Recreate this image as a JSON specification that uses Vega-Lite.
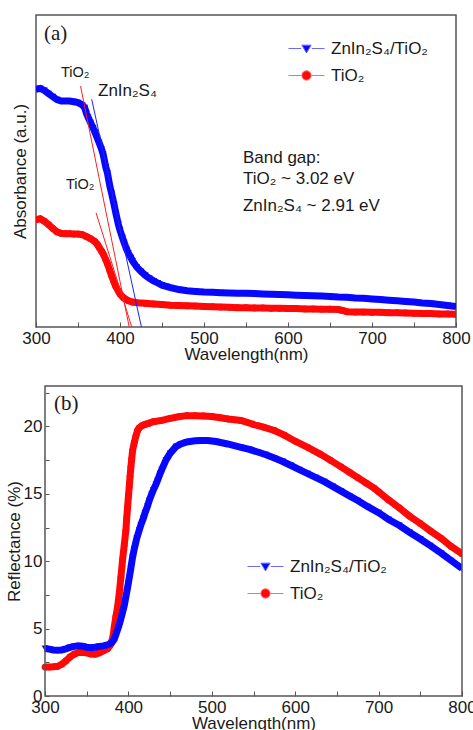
{
  "$schema": "https://vega.github.io/schema/vega-lite/v6.json",
  "padding": {"left": 5, "top": 14, "right": 0, "bottom": 0},
  "background": "white",
  "config": {
    "font": "Liberation Sans",
    "view": {"stroke": "#555555", "strokeWidth": 1.5},
    "axis": {"grid": false, "domain": false, "labelFont": "Liberation Sans", "titleFont": "Liberation Sans", "labelFontSize": 17, "titleFontSize": 17, "titleFontWeight": "normal", "labelColor": "#1a1a1a", "titleColor": "#1a1a1a", "tickColor": "#555555", "labelFlush": false, "labelOverlap": false},
    "legend": {"labelFont": "Liberation Sans", "labelFontSize": 17, "labelColor": "#1a1a1a"}
  },
  "datasets": {
    "absA": [
      {"wl": 300, "v": 0.344, "s": "TiO₂"}, {"wl": 305, "v": 0.347, "s": "TiO₂"}, {"wl": 310, "v": 0.339, "s": "TiO₂"}, {"wl": 315, "v": 0.328, "s": "TiO₂"}, {"wl": 320, "v": 0.316, "s": "TiO₂"}, {"wl": 325, "v": 0.305, "s": "TiO₂"}, {"wl": 330, "v": 0.300, "s": "TiO₂"}, {"wl": 335, "v": 0.299, "s": "TiO₂"}, {"wl": 340, "v": 0.299, "s": "TiO₂"}, {"wl": 345, "v": 0.298, "s": "TiO₂"}, {"wl": 350, "v": 0.298, "s": "TiO₂"}, {"wl": 355, "v": 0.296, "s": "TiO₂"}, {"wl": 360, "v": 0.290, "s": "TiO₂"}, {"wl": 365, "v": 0.283, "s": "TiO₂"}, {"wl": 370, "v": 0.274, "s": "TiO₂"}, {"wl": 373, "v": 0.265, "s": "TiO₂"}, {"wl": 375, "v": 0.256, "s": "TiO₂"}, {"wl": 378, "v": 0.243, "s": "TiO₂"}, {"wl": 380, "v": 0.234, "s": "TiO₂"}, {"wl": 383, "v": 0.216, "s": "TiO₂"}, {"wl": 385, "v": 0.203, "s": "TiO₂"}, {"wl": 388, "v": 0.180, "s": "TiO₂"}, {"wl": 390, "v": 0.164, "s": "TiO₂"}, {"wl": 393, "v": 0.143, "s": "TiO₂"}, {"wl": 395, "v": 0.130, "s": "TiO₂"}, {"wl": 398, "v": 0.115, "s": "TiO₂"}, {"wl": 400, "v": 0.106, "s": "TiO₂"}, {"wl": 403, "v": 0.097, "s": "TiO₂"}, {"wl": 405, "v": 0.092, "s": "TiO₂"}, {"wl": 408, "v": 0.087, "s": "TiO₂"}, {"wl": 410, "v": 0.084, "s": "TiO₂"}, {"wl": 415, "v": 0.080, "s": "TiO₂"}, {"wl": 420, "v": 0.078, "s": "TiO₂"}, {"wl": 430, "v": 0.076, "s": "TiO₂"}, {"wl": 440, "v": 0.074, "s": "TiO₂"}, {"wl": 450, "v": 0.072, "s": "TiO₂"}, {"wl": 460, "v": 0.070, "s": "TiO₂"}, {"wl": 470, "v": 0.069, "s": "TiO₂"}, {"wl": 480, "v": 0.068, "s": "TiO₂"}, {"wl": 490, "v": 0.067, "s": "TiO₂"}, {"wl": 500, "v": 0.066, "s": "TiO₂"}, {"wl": 510, "v": 0.065, "s": "TiO₂"}, {"wl": 520, "v": 0.064, "s": "TiO₂"}, {"wl": 530, "v": 0.063, "s": "TiO₂"}, {"wl": 540, "v": 0.062, "s": "TiO₂"}, {"wl": 550, "v": 0.062, "s": "TiO₂"}, {"wl": 560, "v": 0.061, "s": "TiO₂"}, {"wl": 570, "v": 0.061, "s": "TiO₂"}, {"wl": 580, "v": 0.060, "s": "TiO₂"}, {"wl": 590, "v": 0.060, "s": "TiO₂"}, {"wl": 600, "v": 0.059, "s": "TiO₂"}, {"wl": 610, "v": 0.059, "s": "TiO₂"}, {"wl": 620, "v": 0.058, "s": "TiO₂"}, {"wl": 630, "v": 0.058, "s": "TiO₂"}, {"wl": 640, "v": 0.057, "s": "TiO₂"}, {"wl": 650, "v": 0.057, "s": "TiO₂"}, {"wl": 660, "v": 0.056, "s": "TiO₂"}, {"wl": 665, "v": 0.053, "s": "TiO₂"}, {"wl": 670, "v": 0.049, "s": "TiO₂"}, {"wl": 680, "v": 0.048, "s": "TiO₂"}, {"wl": 690, "v": 0.048, "s": "TiO₂"}, {"wl": 700, "v": 0.047, "s": "TiO₂"}, {"wl": 710, "v": 0.047, "s": "TiO₂"}, {"wl": 720, "v": 0.046, "s": "TiO₂"}, {"wl": 730, "v": 0.046, "s": "TiO₂"}, {"wl": 740, "v": 0.045, "s": "TiO₂"}, {"wl": 750, "v": 0.044, "s": "TiO₂"}, {"wl": 760, "v": 0.043, "s": "TiO₂"}, {"wl": 770, "v": 0.043, "s": "TiO₂"}, {"wl": 780, "v": 0.042, "s": "TiO₂"}, {"wl": 790, "v": 0.042, "s": "TiO₂"}, {"wl": 800, "v": 0.041, "s": "TiO₂"},
      {"wl": 300, "v": 0.762, "s": "ZnIn₂S₄/TiO₂"}, {"wl": 305, "v": 0.765, "s": "ZnIn₂S₄/TiO₂"}, {"wl": 310, "v": 0.758, "s": "ZnIn₂S₄/TiO₂"}, {"wl": 315, "v": 0.748, "s": "ZnIn₂S₄/TiO₂"}, {"wl": 320, "v": 0.738, "s": "ZnIn₂S₄/TiO₂"}, {"wl": 325, "v": 0.729, "s": "ZnIn₂S₄/TiO₂"}, {"wl": 330, "v": 0.724, "s": "ZnIn₂S₄/TiO₂"}, {"wl": 335, "v": 0.724, "s": "ZnIn₂S₄/TiO₂"}, {"wl": 340, "v": 0.724, "s": "ZnIn₂S₄/TiO₂"}, {"wl": 345, "v": 0.722, "s": "ZnIn₂S₄/TiO₂"}, {"wl": 350, "v": 0.719, "s": "ZnIn₂S₄/TiO₂"}, {"wl": 355, "v": 0.712, "s": "ZnIn₂S₄/TiO₂"}, {"wl": 358, "v": 0.703, "s": "ZnIn₂S₄/TiO₂"}, {"wl": 360, "v": 0.685, "s": "ZnIn₂S₄/TiO₂"}, {"wl": 362, "v": 0.672, "s": "ZnIn₂S₄/TiO₂"}, {"wl": 365, "v": 0.655, "s": "ZnIn₂S₄/TiO₂"}, {"wl": 368, "v": 0.638, "s": "ZnIn₂S₄/TiO₂"}, {"wl": 370, "v": 0.625, "s": "ZnIn₂S₄/TiO₂"}, {"wl": 373, "v": 0.605, "s": "ZnIn₂S₄/TiO₂"}, {"wl": 375, "v": 0.592, "s": "ZnIn₂S₄/TiO₂"}, {"wl": 378, "v": 0.570, "s": "ZnIn₂S₄/TiO₂"}, {"wl": 380, "v": 0.553, "s": "ZnIn₂S₄/TiO₂"}, {"wl": 383, "v": 0.513, "s": "ZnIn₂S₄/TiO₂"}, {"wl": 385, "v": 0.494, "s": "ZnIn₂S₄/TiO₂"}, {"wl": 388, "v": 0.450, "s": "ZnIn₂S₄/TiO₂"}, {"wl": 390, "v": 0.428, "s": "ZnIn₂S₄/TiO₂"}, {"wl": 393, "v": 0.392, "s": "ZnIn₂S₄/TiO₂"}, {"wl": 395, "v": 0.365, "s": "ZnIn₂S₄/TiO₂"}, {"wl": 398, "v": 0.330, "s": "ZnIn₂S₄/TiO₂"}, {"wl": 400, "v": 0.310, "s": "ZnIn₂S₄/TiO₂"}, {"wl": 403, "v": 0.286, "s": "ZnIn₂S₄/TiO₂"}, {"wl": 405, "v": 0.270, "s": "ZnIn₂S₄/TiO₂"}, {"wl": 408, "v": 0.248, "s": "ZnIn₂S₄/TiO₂"}, {"wl": 410, "v": 0.237, "s": "ZnIn₂S₄/TiO₂"}, {"wl": 413, "v": 0.222, "s": "ZnIn₂S₄/TiO₂"}, {"wl": 415, "v": 0.212, "s": "ZnIn₂S₄/TiO₂"}, {"wl": 420, "v": 0.192, "s": "ZnIn₂S₄/TiO₂"}, {"wl": 425, "v": 0.178, "s": "ZnIn₂S₄/TiO₂"}, {"wl": 430, "v": 0.166, "s": "ZnIn₂S₄/TiO₂"}, {"wl": 435, "v": 0.156, "s": "ZnIn₂S₄/TiO₂"}, {"wl": 440, "v": 0.148, "s": "ZnIn₂S₄/TiO₂"}, {"wl": 445, "v": 0.141, "s": "ZnIn₂S₄/TiO₂"}, {"wl": 450, "v": 0.134, "s": "ZnIn₂S₄/TiO₂"}, {"wl": 455, "v": 0.130, "s": "ZnIn₂S₄/TiO₂"}, {"wl": 460, "v": 0.126, "s": "ZnIn₂S₄/TiO₂"}, {"wl": 465, "v": 0.123, "s": "ZnIn₂S₄/TiO₂"}, {"wl": 470, "v": 0.120, "s": "ZnIn₂S₄/TiO₂"}, {"wl": 480, "v": 0.116, "s": "ZnIn₂S₄/TiO₂"}, {"wl": 490, "v": 0.114, "s": "ZnIn₂S₄/TiO₂"}, {"wl": 500, "v": 0.112, "s": "ZnIn₂S₄/TiO₂"}, {"wl": 510, "v": 0.111, "s": "ZnIn₂S₄/TiO₂"}, {"wl": 520, "v": 0.110, "s": "ZnIn₂S₄/TiO₂"}, {"wl": 530, "v": 0.109, "s": "ZnIn₂S₄/TiO₂"}, {"wl": 540, "v": 0.108, "s": "ZnIn₂S₄/TiO₂"}, {"wl": 550, "v": 0.108, "s": "ZnIn₂S₄/TiO₂"}, {"wl": 560, "v": 0.107, "s": "ZnIn₂S₄/TiO₂"}, {"wl": 570, "v": 0.106, "s": "ZnIn₂S₄/TiO₂"}, {"wl": 580, "v": 0.105, "s": "ZnIn₂S₄/TiO₂"}, {"wl": 590, "v": 0.104, "s": "ZnIn₂S₄/TiO₂"}, {"wl": 600, "v": 0.103, "s": "ZnIn₂S₄/TiO₂"}, {"wl": 610, "v": 0.102, "s": "ZnIn₂S₄/TiO₂"}, {"wl": 620, "v": 0.101, "s": "ZnIn₂S₄/TiO₂"}, {"wl": 630, "v": 0.100, "s": "ZnIn₂S₄/TiO₂"}, {"wl": 640, "v": 0.099, "s": "ZnIn₂S₄/TiO₂"}, {"wl": 650, "v": 0.098, "s": "ZnIn₂S₄/TiO₂"}, {"wl": 660, "v": 0.096, "s": "ZnIn₂S₄/TiO₂"}, {"wl": 670, "v": 0.095, "s": "ZnIn₂S₄/TiO₂"}, {"wl": 680, "v": 0.093, "s": "ZnIn₂S₄/TiO₂"}, {"wl": 690, "v": 0.092, "s": "ZnIn₂S₄/TiO₂"}, {"wl": 700, "v": 0.090, "s": "ZnIn₂S₄/TiO₂"}, {"wl": 710, "v": 0.088, "s": "ZnIn₂S₄/TiO₂"}, {"wl": 720, "v": 0.086, "s": "ZnIn₂S₄/TiO₂"}, {"wl": 730, "v": 0.084, "s": "ZnIn₂S₄/TiO₂"}, {"wl": 740, "v": 0.082, "s": "ZnIn₂S₄/TiO₂"}, {"wl": 750, "v": 0.080, "s": "ZnIn₂S₄/TiO₂"}, {"wl": 760, "v": 0.077, "s": "ZnIn₂S₄/TiO₂"}, {"wl": 770, "v": 0.075, "s": "ZnIn₂S₄/TiO₂"}, {"wl": 780, "v": 0.072, "s": "ZnIn₂S₄/TiO₂"}, {"wl": 790, "v": 0.069, "s": "ZnIn₂S₄/TiO₂"}, {"wl": 800, "v": 0.066, "s": "ZnIn₂S₄/TiO₂"}
    ],
    "refB": [
      {"wl": 300, "v": 2.15, "s": "TiO₂"}, {"wl": 305, "v": 2.15, "s": "TiO₂"}, {"wl": 310, "v": 2.17, "s": "TiO₂"}, {"wl": 315, "v": 2.2, "s": "TiO₂"}, {"wl": 320, "v": 2.35, "s": "TiO₂"}, {"wl": 325, "v": 2.6, "s": "TiO₂"}, {"wl": 330, "v": 2.9, "s": "TiO₂"}, {"wl": 335, "v": 3.1, "s": "TiO₂"}, {"wl": 340, "v": 3.22, "s": "TiO₂"}, {"wl": 345, "v": 3.25, "s": "TiO₂"}, {"wl": 350, "v": 3.2, "s": "TiO₂"}, {"wl": 355, "v": 3.12, "s": "TiO₂"}, {"wl": 360, "v": 3.1, "s": "TiO₂"}, {"wl": 365, "v": 3.2, "s": "TiO₂"}, {"wl": 370, "v": 3.35, "s": "TiO₂"}, {"wl": 375, "v": 3.5, "s": "TiO₂"}, {"wl": 378, "v": 3.75, "s": "TiO₂"}, {"wl": 380, "v": 4.0, "s": "TiO₂"}, {"wl": 382, "v": 4.6, "s": "TiO₂"}, {"wl": 383, "v": 5.1, "s": "TiO₂"}, {"wl": 385, "v": 5.9, "s": "TiO₂"}, {"wl": 387, "v": 6.6, "s": "TiO₂"}, {"wl": 389, "v": 7.6, "s": "TiO₂"}, {"wl": 391, "v": 8.8, "s": "TiO₂"}, {"wl": 393, "v": 10.1, "s": "TiO₂"}, {"wl": 395, "v": 11.2, "s": "TiO₂"}, {"wl": 397, "v": 12.3, "s": "TiO₂"}, {"wl": 398, "v": 13.2, "s": "TiO₂"}, {"wl": 399, "v": 14.0, "s": "TiO₂"}, {"wl": 400, "v": 14.8, "s": "TiO₂"}, {"wl": 401, "v": 15.5, "s": "TiO₂"}, {"wl": 402, "v": 16.3, "s": "TiO₂"}, {"wl": 403, "v": 17.0, "s": "TiO₂"}, {"wl": 404, "v": 17.6, "s": "TiO₂"}, {"wl": 405, "v": 18.2, "s": "TiO₂"}, {"wl": 407, "v": 18.8, "s": "TiO₂"}, {"wl": 409, "v": 19.3, "s": "TiO₂"}, {"wl": 411, "v": 19.7, "s": "TiO₂"}, {"wl": 413, "v": 19.9, "s": "TiO₂"}, {"wl": 416, "v": 20.05, "s": "TiO₂"}, {"wl": 420, "v": 20.15, "s": "TiO₂"}, {"wl": 425, "v": 20.25, "s": "TiO₂"}, {"wl": 430, "v": 20.35, "s": "TiO₂"}, {"wl": 440, "v": 20.45, "s": "TiO₂"}, {"wl": 450, "v": 20.6, "s": "TiO₂"}, {"wl": 460, "v": 20.72, "s": "TiO₂"}, {"wl": 470, "v": 20.8, "s": "TiO₂"}, {"wl": 480, "v": 20.8, "s": "TiO₂"}, {"wl": 490, "v": 20.78, "s": "TiO₂"}, {"wl": 500, "v": 20.74, "s": "TiO₂"}, {"wl": 510, "v": 20.65, "s": "TiO₂"}, {"wl": 520, "v": 20.55, "s": "TiO₂"}, {"wl": 535, "v": 20.44, "s": "TiO₂"}, {"wl": 550, "v": 20.15, "s": "TiO₂"}, {"wl": 562, "v": 19.95, "s": "TiO₂"}, {"wl": 575, "v": 19.7, "s": "TiO₂"}, {"wl": 587, "v": 19.35, "s": "TiO₂"}, {"wl": 600, "v": 18.9, "s": "TiO₂"}, {"wl": 615, "v": 18.45, "s": "TiO₂"}, {"wl": 630, "v": 17.95, "s": "TiO₂"}, {"wl": 642, "v": 17.5, "s": "TiO₂"}, {"wl": 655, "v": 17.0, "s": "TiO₂"}, {"wl": 665, "v": 16.6, "s": "TiO₂"}, {"wl": 675, "v": 16.2, "s": "TiO₂"}, {"wl": 685, "v": 15.8, "s": "TiO₂"}, {"wl": 695, "v": 15.4, "s": "TiO₂"}, {"wl": 700, "v": 15.15, "s": "TiO₂"}, {"wl": 712, "v": 14.55, "s": "TiO₂"}, {"wl": 725, "v": 13.95, "s": "TiO₂"}, {"wl": 737, "v": 13.35, "s": "TiO₂"}, {"wl": 750, "v": 12.8, "s": "TiO₂"}, {"wl": 762, "v": 12.25, "s": "TiO₂"}, {"wl": 775, "v": 11.7, "s": "TiO₂"}, {"wl": 787, "v": 11.1, "s": "TiO₂"}, {"wl": 800, "v": 10.55, "s": "TiO₂"},
      {"wl": 300, "v": 3.53, "s": "ZnIn₂S₄/TiO₂"}, {"wl": 305, "v": 3.48, "s": "ZnIn₂S₄/TiO₂"}, {"wl": 310, "v": 3.42, "s": "ZnIn₂S₄/TiO₂"}, {"wl": 315, "v": 3.4, "s": "ZnIn₂S₄/TiO₂"}, {"wl": 320, "v": 3.42, "s": "ZnIn₂S₄/TiO₂"}, {"wl": 325, "v": 3.5, "s": "ZnIn₂S₄/TiO₂"}, {"wl": 330, "v": 3.6, "s": "ZnIn₂S₄/TiO₂"}, {"wl": 335, "v": 3.68, "s": "ZnIn₂S₄/TiO₂"}, {"wl": 340, "v": 3.72, "s": "ZnIn₂S₄/TiO₂"}, {"wl": 345, "v": 3.7, "s": "ZnIn₂S₄/TiO₂"}, {"wl": 350, "v": 3.62, "s": "ZnIn₂S₄/TiO₂"}, {"wl": 355, "v": 3.58, "s": "ZnIn₂S₄/TiO₂"}, {"wl": 360, "v": 3.62, "s": "ZnIn₂S₄/TiO₂"}, {"wl": 365, "v": 3.68, "s": "ZnIn₂S₄/TiO₂"}, {"wl": 370, "v": 3.72, "s": "ZnIn₂S₄/TiO₂"}, {"wl": 375, "v": 3.8, "s": "ZnIn₂S₄/TiO₂"}, {"wl": 380, "v": 3.95, "s": "ZnIn₂S₄/TiO₂"}, {"wl": 383, "v": 4.2, "s": "ZnIn₂S₄/TiO₂"}, {"wl": 385, "v": 4.55, "s": "ZnIn₂S₄/TiO₂"}, {"wl": 388, "v": 5.1, "s": "ZnIn₂S₄/TiO₂"}, {"wl": 390, "v": 5.5, "s": "ZnIn₂S₄/TiO₂"}, {"wl": 393, "v": 6.2, "s": "ZnIn₂S₄/TiO₂"}, {"wl": 395, "v": 6.7, "s": "ZnIn₂S₄/TiO₂"}, {"wl": 398, "v": 7.7, "s": "ZnIn₂S₄/TiO₂"}, {"wl": 400, "v": 8.4, "s": "ZnIn₂S₄/TiO₂"}, {"wl": 403, "v": 9.5, "s": "ZnIn₂S₄/TiO₂"}, {"wl": 405, "v": 10.3, "s": "ZnIn₂S₄/TiO₂"}, {"wl": 407, "v": 10.9, "s": "ZnIn₂S₄/TiO₂"}, {"wl": 410, "v": 11.7, "s": "ZnIn₂S₄/TiO₂"}, {"wl": 413, "v": 12.3, "s": "ZnIn₂S₄/TiO₂"}, {"wl": 415, "v": 12.7, "s": "ZnIn₂S₄/TiO₂"}, {"wl": 418, "v": 13.2, "s": "ZnIn₂S₄/TiO₂"}, {"wl": 420, "v": 13.6, "s": "ZnIn₂S₄/TiO₂"}, {"wl": 423, "v": 14.1, "s": "ZnIn₂S₄/TiO₂"}, {"wl": 425, "v": 14.5, "s": "ZnIn₂S₄/TiO₂"}, {"wl": 428, "v": 15.0, "s": "ZnIn₂S₄/TiO₂"}, {"wl": 430, "v": 15.3, "s": "ZnIn₂S₄/TiO₂"}, {"wl": 433, "v": 15.7, "s": "ZnIn₂S₄/TiO₂"}, {"wl": 435, "v": 16.0, "s": "ZnIn₂S₄/TiO₂"}, {"wl": 438, "v": 16.5, "s": "ZnIn₂S₄/TiO₂"}, {"wl": 440, "v": 16.8, "s": "ZnIn₂S₄/TiO₂"}, {"wl": 445, "v": 17.5, "s": "ZnIn₂S₄/TiO₂"}, {"wl": 450, "v": 18.0, "s": "ZnIn₂S₄/TiO₂"}, {"wl": 457, "v": 18.5, "s": "ZnIn₂S₄/TiO₂"}, {"wl": 463, "v": 18.7, "s": "ZnIn₂S₄/TiO₂"}, {"wl": 470, "v": 18.85, "s": "ZnIn₂S₄/TiO₂"}, {"wl": 480, "v": 18.93, "s": "ZnIn₂S₄/TiO₂"}, {"wl": 487, "v": 18.96, "s": "ZnIn₂S₄/TiO₂"}, {"wl": 495, "v": 18.95, "s": "ZnIn₂S₄/TiO₂"}, {"wl": 505, "v": 18.88, "s": "ZnIn₂S₄/TiO₂"}, {"wl": 519, "v": 18.7, "s": "ZnIn₂S₄/TiO₂"}, {"wl": 535, "v": 18.45, "s": "ZnIn₂S₄/TiO₂"}, {"wl": 545, "v": 18.3, "s": "ZnIn₂S₄/TiO₂"}, {"wl": 555, "v": 18.1, "s": "ZnIn₂S₄/TiO₂"}, {"wl": 565, "v": 17.9, "s": "ZnIn₂S₄/TiO₂"}, {"wl": 575, "v": 17.65, "s": "ZnIn₂S₄/TiO₂"}, {"wl": 585, "v": 17.4, "s": "ZnIn₂S₄/TiO₂"}, {"wl": 595, "v": 17.1, "s": "ZnIn₂S₄/TiO₂"}, {"wl": 605, "v": 16.8, "s": "ZnIn₂S₄/TiO₂"}, {"wl": 615, "v": 16.5, "s": "ZnIn₂S₄/TiO₂"}, {"wl": 625, "v": 16.2, "s": "ZnIn₂S₄/TiO₂"}, {"wl": 635, "v": 15.9, "s": "ZnIn₂S₄/TiO₂"}, {"wl": 645, "v": 15.55, "s": "ZnIn₂S₄/TiO₂"}, {"wl": 655, "v": 15.2, "s": "ZnIn₂S₄/TiO₂"}, {"wl": 665, "v": 14.85, "s": "ZnIn₂S₄/TiO₂"}, {"wl": 675, "v": 14.5, "s": "ZnIn₂S₄/TiO₂"}, {"wl": 687, "v": 14.05, "s": "ZnIn₂S₄/TiO₂"}, {"wl": 700, "v": 13.6, "s": "ZnIn₂S₄/TiO₂"}, {"wl": 712, "v": 13.1, "s": "ZnIn₂S₄/TiO₂"}, {"wl": 725, "v": 12.65, "s": "ZnIn₂S₄/TiO₂"}, {"wl": 737, "v": 12.15, "s": "ZnIn₂S₄/TiO₂"}, {"wl": 750, "v": 11.65, "s": "ZnIn₂S₄/TiO₂"}, {"wl": 762, "v": 11.15, "s": "ZnIn₂S₄/TiO₂"}, {"wl": 775, "v": 10.6, "s": "ZnIn₂S₄/TiO₂"}, {"wl": 787, "v": 10.05, "s": "ZnIn₂S₄/TiO₂"}, {"wl": 800, "v": 9.46, "s": "ZnIn₂S₄/TiO₂"}
    ]
  },
  "vconcat": [
    {
      "width": 420,
      "height": 312,
      "encoding": {
        "x": {"field": "wl", "type": "quantitative", "scale": {"domain": [300, 800], "nice": false, "zero": false},
              "axis": {"title": "Wavelength(nm)", "values": [300, 350, 400, 450, 500, 550, 600, 650, 700, 750, 800], "labelExpr": "datum.value % 100 === 0 ? datum.label : ''", "tickSize": -5, "labelPadding": 8, "titlePadding": 0}},
        "y": {"field": "v", "type": "quantitative", "scale": {"domain": [0, 1], "nice": false},
              "axis": {"title": "Absorbance (a.u.)", "labels": false, "ticks": false, "titlePadding": 7}}
      },
      "layer": [
        {
          "data": {"name": "absA"},
          "transform": [{"filter": "datum.s === 'TiO₂'"}],
          "mark": {"type": "line", "strokeWidth": 7, "clip": true, "color": "#ff0808"}
        },
        {
          "data": {"name": "absA"},
          "transform": [{"filter": "datum.s === 'TiO₂'"}],
          "mark": {"type": "point", "shape": "circle", "filled": true, "size": 45, "opacity": 1, "clip": true, "color": "#ff0808"}
        },
        {
          "data": {"name": "absA"},
          "transform": [{"filter": "datum.s !== 'TiO₂'"}],
          "mark": {"type": "line", "strokeWidth": 7, "clip": true, "color": "#0808ff"}
        },
        {
          "data": {"name": "absA"},
          "transform": [{"filter": "datum.s !== 'TiO₂'"}],
          "mark": {"type": "point", "shape": "triangle-down", "filled": true, "size": 45, "opacity": 1, "clip": true, "color": "#0808ff"}
        },
        {
          "data": {"values": []},
          "mark": {"type": "point", "opacity": 1, "strokeWidth": 1},
          "encoding": {
            "x": {"field": "wl", "type": "quantitative"},
            "y": {"field": "v", "type": "quantitative"},
            "fill": {"field": "s", "type": "nominal", "scale": {"domain": ["ZnIn₂S₄/TiO₂", "TiO₂"], "range": ["#0808ff", "#ff0808"]},
              "legend": {"title": null, "orient": "none", "legendX": 262, "legendY": 25, "padding": 0, "symbolSize": 225, "symbolStrokeWidth": 1, "labelOffset": 16, "rowPadding": 9}},
            "stroke": {"field": "s", "type": "nominal", "scale": {"domain": ["ZnIn₂S₄/TiO₂", "TiO₂"], "range": ["#6a6aff", "#ff6a6a"]}},
            "shape": {"field": "s", "type": "nominal", "scale": {"domain": ["ZnIn₂S₄/TiO₂", "TiO₂"], "range": ["M-2.4,0H-0.7M0.7,0H2.4M-0.62,-0.45L0.62,-0.45L0,0.6Z", "M-2.4,0H-0.7M0.7,0H2.4M0.62,0A0.62,0.62,0,1,1,-0.62,0A0.62,0.62,0,1,1,0.62,0Z"]}}
          }
        },
        {
          "data": {"values": [{"xa": 353, "ya": 0.772, "xb": 411, "yb": 0}, {"xa": 371.5, "ya": 0.366, "xb": 414, "yb": 0}]},
          "mark": {"type": "rule", "color": "#ff2020", "strokeWidth": 1},
          "encoding": {"x": {"field": "xa", "type": "quantitative"}, "y": {"field": "ya", "type": "quantitative"}, "x2": {"field": "xb"}, "y2": {"field": "yb"}}
        },
        {
          "data": {"values": [{"xa": 366.3, "ya": 0.73, "xb": 425.5, "yb": 0}]},
          "mark": {"type": "rule", "color": "#2020ff", "strokeWidth": 1},
          "encoding": {"x": {"field": "xa", "type": "quantitative"}, "y": {"field": "ya", "type": "quantitative"}, "x2": {"field": "xb"}, "y2": {"field": "yb"}}
        },
        {
          "data": {"values": [{"x": 309.5, "y": 0.939, "t": "(a)"}]},
          "mark": {"type": "text", "font": "Liberation Serif", "fontSize": 21, "align": "left", "baseline": "middle", "color": "#1a1a1a"},
          "encoding": {"x": {"field": "x", "type": "quantitative"}, "y": {"field": "y", "type": "quantitative"}, "text": {"field": "t"}}
        },
        {
          "data": {"values": [{"x": 329.8, "y": 0.814, "t": "TiO₂"}, {"x": 335.7, "y": 0.455, "t": "TiO₂"}]},
          "mark": {"type": "text", "fontSize": 14.5, "align": "left", "baseline": "middle", "color": "#1a1a1a"},
          "encoding": {"x": {"field": "x", "type": "quantitative"}, "y": {"field": "y", "type": "quantitative"}, "text": {"field": "t"}}
        },
        {
          "data": {"values": [{"x": 373.8, "y": 0.756, "t": "ZnIn₂S₄"}, {"x": 546.4, "y": 0.542, "t": "Band gap:"}, {"x": 546.4, "y": 0.474, "t": "TiO₂ ~ 3.02 eV"}, {"x": 546.4, "y": 0.388, "t": "ZnIn₂S₄ ~ 2.91 eV"}]},
          "mark": {"type": "text", "fontSize": 17, "align": "left", "baseline": "middle", "color": "#1a1a1a"},
          "encoding": {"x": {"field": "x", "type": "quantitative"}, "y": {"field": "y", "type": "quantitative"}, "text": {"field": "t"}}
        }
      ]
    },
    {
      "width": 426,
      "height": 310,
      "view": {"stroke": null},
      "encoding": {
        "x": {"field": "wl", "type": "quantitative", "scale": {"domain": [300, 800], "range": [9, 426], "nice": false, "zero": false},
              "axis": {"title": "Wavelength(nm)", "values": [300, 350, 400, 450, 500, 550, 600, 650, 700, 750, 800], "labelExpr": "datum.value % 100 === 0 ? datum.label : ''", "tickSize": -5, "labelPadding": 8, "titlePadding": 0}},
        "y": {"field": "v", "type": "quantitative", "scale": {"domain": [0, 23], "nice": false},
              "axis": {"title": "Reflectance (%)", "offset": -9, "values": [0, 2.5, 5, 7.5, 10, 12.5, 15, 17.5, 20, 22.5], "labelExpr": "datum.value % 5 === 0 ? datum.label : ''", "tickSize": -4, "labelPadding": 7, "titlePadding": 0}}
      },
      "layer": [
        {
          "data": {"name": "refB"},
          "transform": [{"filter": "datum.s === 'TiO₂'"}],
          "mark": {"type": "line", "strokeWidth": 7, "clip": true, "color": "#ff0808"}
        },
        {
          "data": {"name": "refB"},
          "transform": [{"filter": "datum.s === 'TiO₂'"}],
          "mark": {"type": "point", "shape": "circle", "filled": true, "size": 45, "opacity": 1, "clip": true, "color": "#ff0808"}
        },
        {
          "data": {"name": "refB"},
          "transform": [{"filter": "datum.s !== 'TiO₂'"}],
          "mark": {"type": "line", "strokeWidth": 7, "clip": true, "color": "#0808ff"}
        },
        {
          "data": {"name": "refB"},
          "transform": [{"filter": "datum.s !== 'TiO₂'"}],
          "mark": {"type": "point", "shape": "triangle-down", "filled": true, "size": 45, "opacity": 1, "clip": true, "color": "#0808ff"}
        },
        {
          "data": {"values": []},
          "mark": {"type": "point", "opacity": 1, "strokeWidth": 1},
          "encoding": {
            "x": {"field": "wl", "type": "quantitative"},
            "y": {"field": "v", "type": "quantitative"},
            "fill": {"field": "s", "type": "nominal", "scale": {"domain": ["ZnIn₂S₄/TiO₂", "TiO₂"], "range": ["#0808ff", "#ff0808"]},
              "legend": {"title": null, "orient": "none", "legendX": 221, "legendY": 172, "padding": 0, "symbolSize": 225, "symbolStrokeWidth": 1, "labelOffset": 16, "rowPadding": 9}},
            "stroke": {"field": "s", "type": "nominal", "scale": {"domain": ["ZnIn₂S₄/TiO₂", "TiO₂"], "range": ["#6a6aff", "#ff6a6a"]}},
            "shape": {"field": "s", "type": "nominal", "scale": {"domain": ["ZnIn₂S₄/TiO₂", "TiO₂"], "range": ["M-2.4,0H-0.7M0.7,0H2.4M-0.62,-0.45L0.62,-0.45L0,0.6Z", "M-2.4,0H-0.7M0.7,0H2.4M0.62,0A0.62,0.62,0,1,1,-0.62,0A0.62,0.62,0,1,1,0.62,0Z"]}}
          }
        },
        {
          "data": {"values": [{"x": 310.8, "y": 21.7, "t": "(b)"}]},
          "mark": {"type": "text", "font": "Liberation Serif", "fontSize": 21, "align": "left", "baseline": "middle", "color": "#1a1a1a"},
          "encoding": {"x": {"field": "x", "type": "quantitative"}, "y": {"field": "y", "type": "quantitative"}, "text": {"field": "t"}}
        },
        {
          "data": {"values": [{"x0": 300, "x1": 800, "y0": 0, "y1": 23}]},
          "mark": {"type": "rect", "fill": null, "fillOpacity": 0, "stroke": "#555555", "strokeWidth": 1.5},
          "encoding": {"x": {"field": "x0", "type": "quantitative"}, "x2": {"field": "x1"}, "y": {"field": "y0", "type": "quantitative"}, "y2": {"field": "y1"}}
        }
      ]
    }
  ],
  "spacing": 20,
  "resolve": {
    "scale": {"fill": "independent", "stroke": "independent", "shape": "independent", "x": "independent", "y": "independent"},
    "legend": {"fill": "independent", "stroke": "independent", "shape": "independent"}
  }
}
